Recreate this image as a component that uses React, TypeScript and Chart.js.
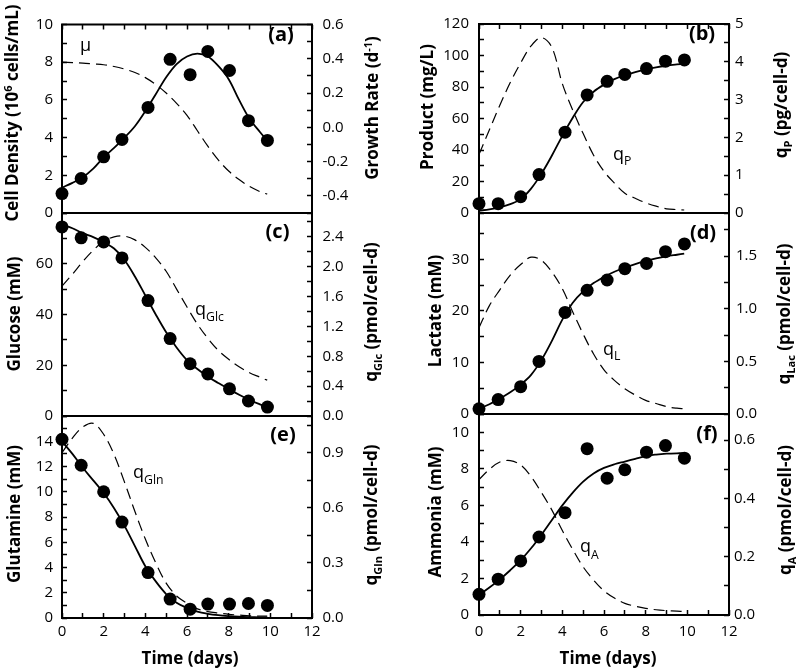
import React, { useEffect, useRef } from 'react';
import { Chart, registerables } from 'chart.js';

Chart.register(...registerables);

const FONT = "'Open Sans', 'DejaVu Sans', sans-serif";
Chart.defaults.font.family = FONT;
const W = 796;
const H = 669;

// ---- measured data (days) ----
const sampleDays = [0, 0.92, 2.0, 2.88, 4.13, 5.19, 6.15, 7.0, 8.04, 8.95, 9.86];
const cellDensity = [1.03, 1.83, 2.98, 3.9, 5.6, 8.15, 7.34, 8.57, 7.56, 4.9, 3.85];
const product = [5.9, 5.9, 10.3, 24.4, 51.3, 75.0, 83.6, 88.0, 91.7, 96.4, 97.2];
const glucose = [74.5, 70.2, 68.6, 62.3, 45.5, 30.5, 20.6, 16.6, 10.7, 5.9, 3.5];
const lactate = [1.0, 2.8, 5.3, 10.2, 19.7, 24.0, 26.0, 28.2, 29.2, 31.5, 33.0];
const glutamine = [14.15, 12.1, 10.0, 7.6, 3.6, 1.5, 0.7, 1.1, 1.1, 1.15, 1.0];
const ammonia = [1.13, 1.96, 2.96, 4.27, 5.6, 9.1, 7.49, 7.95, 8.91, 9.27, 8.58];

// ---- model curves ----
const fitDays = [0, 0.5, 1, 1.5, 2, 2.5, 3, 3.5, 4, 4.5, 5, 5.5, 6, 6.5, 7, 7.5, 8, 8.5, 9, 9.5, 9.85];
const cellFit = [1.35, 1.6, 1.9, 2.35, 2.95, 3.45, 4.0, 4.6, 5.4, 6.3, 7.2, 7.9, 8.3, 8.45, 8.3, 7.8, 7.1, 6.0, 5.0, 4.3, 3.85];
const muFit = [0.38, 0.378, 0.375, 0.37, 0.365, 0.355, 0.34, 0.32, 0.29, 0.25, 0.2, 0.14, 0.07, -0.02, -0.11, -0.19, -0.255, -0.305, -0.345, -0.375, -0.39];
const productFit = [1.5, 2.3, 3.6, 5.6, 8.8, 15.5, 25, 36.5, 49, 60.5, 70.5, 77, 81.5, 85, 87.5, 89.5, 91.2, 92.5, 93.5, 94.3, 94.8];
const qpFit = [1.55, 2.2, 2.85, 3.45, 3.97, 4.42, 4.64, 4.38, 3.42, 2.72, 2.1, 1.53, 1.1, 0.79, 0.52, 0.39, 0.27, 0.18, 0.11, 0.09, 0.08];
const glucoseFit = [75.5, 74, 72, 70.5, 68.5, 66, 61.5, 55, 47.5, 40, 33, 27, 22, 18.5, 15.5, 13, 10.6, 8.4, 6.3, 4.6, 3.5];
const qGlcFit = [1.74, 1.9, 2.07, 2.22, 2.34, 2.4, 2.41, 2.36, 2.26, 2.12, 1.94, 1.7, 1.46, 1.23, 1.04, 0.88, 0.76, 0.66, 0.58, 0.52, 0.48];
const lactateFit = [1.0, 1.9, 3.0, 4.2, 5.7, 7.6, 10.5, 14.2, 18.3, 21.6, 23.8, 25.4, 26.6, 27.6, 28.4, 29.1, 29.7, 30.2, 30.6, 30.9, 31.1];
const qLacFit = [0.82, 1.03, 1.18, 1.32, 1.42, 1.49, 1.46, 1.35, 1.19, 0.97, 0.76, 0.57, 0.42, 0.32, 0.24, 0.18, 0.13, 0.1, 0.07, 0.055, 0.05];
const glutamineFit = [14.0, 13.0, 11.9, 10.9, 9.9, 8.7, 7.3, 5.7, 4.1, 2.9, 1.9, 1.2, 0.8, 0.5, 0.33, 0.22, 0.15, 0.1, 0.07, 0.05, 0.04];
const qGlnFit = [0.9, 0.98, 1.04, 1.06, 1.0, 0.89, 0.74, 0.58, 0.43, 0.3, 0.19, 0.12, 0.08, 0.05, 0.035, 0.027, 0.02, 0.016, 0.012, 0.01, 0.01];
const ammoniaFit = [1.1, 1.5, 1.95, 2.45, 3.0, 3.65, 4.4, 5.2, 6.0, 6.7, 7.3, 7.75, 8.05, 8.25, 8.4, 8.55, 8.7, 8.78, 8.83, 8.85, 8.85];
const qAFit = [0.465, 0.5, 0.525, 0.53, 0.515, 0.475, 0.42, 0.36, 0.29, 0.225, 0.165, 0.12, 0.083, 0.058, 0.04, 0.03, 0.023, 0.018, 0.015, 0.013, 0.012];

// ---- tick labels ----
const dayLabels = [0, 2, 4, 6, 8, 10, 12];
const cellTicks = [0, 2, 4, 6, 8, 10];
const muTicks = [-0.4, -0.2, 0, 0.2, 0.4, 0.6];
const productTicks = [0, 20, 40, 60, 80, 100, 120];
const qpTicks = [0, 1, 2, 3, 4, 5];
const glucoseTicks = [0, 20, 40, 60];
const qGlcTicks = [0, 0.4, 0.8, 1.2, 1.6, 2.0, 2.4];
const lactateTicks = [0, 10, 20, 30];
const qLacTicks = [0, 0.5, 1.0, 1.5];
const glutamineTicks = [0, 2, 4, 6, 8, 10, 12, 14];
const qGlnTicks = [0, 0.3, 0.6, 0.9];
const ammoniaTicks = [0, 2, 4, 6, 8, 10];
const qATicks = [0, 0.2, 0.4, 0.6];

type Part = { t: string; s?: 'sub' | 'sup' };
type Side = { min: number; max: number; minor: number; labels: number[]; dec: number; pad: number };
type Panel = {
  tag: string; tagPos: [number, number];
  rect: [number, number, number, number];
  left: Side; right: Side;
  xMode: 'top' | 'none' | 'bottom'; xPad: number;
  measured: number[]; fit: number[]; rate: number[];
  leftTitle: Part[]; leftTitlePos: [number, number];
  rightTitle: Part[]; rightTitlePos: [number, number];
  rateLabel: Part[]; rateLabelPos: [number, number]; rateSubDy: number;
  timeTitlePos?: [number, number];
};

const panels: Panel[] = [
  {
    tag: '(a)', tagPos: [281, 34], rect: [62, 15, 312, 213],
    left: { min: 0, max: 10, minor: 1, labels: cellTicks, dec: 0, pad: 14 },
    right: { min: -0.5, max: 0.6, minor: 0.1, labels: muTicks, dec: 1, pad: 15.5 },
    xMode: 'top', xPad: 0,
    measured: cellDensity, fit: cellFit, rate: muFit,
    leftTitle: [{ t: 'Cell Density (10' }, { t: '6', s: 'sup' }, { t: ' cells/mL)' }], leftTitlePos: [12, 113],
    rightTitle: [{ t: 'Growth Rate (d' }, { t: '-1', s: 'sup' }, { t: ')' }], rightTitlePos: [372, 108],
    rateLabel: [{ t: 'μ' }], rateLabelPos: [80, 51], rateSubDy: 0,
  },
  {
    tag: '(b)', tagPos: [702, 33], rect: [479, 15, 729, 213],
    left: { min: 0, max: 120, minor: 10, labels: productTicks, dec: 0, pad: 15 },
    right: { min: 0, max: 5, minor: 0.5, labels: qpTicks, dec: 0, pad: 11 },
    xMode: 'top', xPad: 0,
    measured: product, fit: productFit, rate: qpFit,
    leftTitle: [{ t: 'Product (mg/L)' }], leftTitlePos: [427, 107],
    rightTitle: [{ t: 'q' }, { t: 'P', s: 'sub' }, { t: ' (pg/cell-d)' }], rightTitlePos: [781, 105],
    rateLabel: [{ t: 'q' }, { t: 'P', s: 'sub' }], rateLabelPos: [613, 159.5], rateSubDy: 5.5,
  },
  {
    tag: '(c)', tagPos: [277.5, 231], rect: [62, 213, 312, 416],
    left: { min: 0, max: 80, minor: 10, labels: glucoseTicks, dec: 0, pad: 14 },
    right: { min: 0, max: 2.72, minor: 0.2, labels: qGlcTicks, dec: 1, pad: 15.5 },
    xMode: 'none', xPad: 0,
    measured: glucose, fit: glucoseFit, rate: qGlcFit,
    leftTitle: [{ t: 'Glucose (mM)' }], leftTitlePos: [14, 314],
    rightTitle: [{ t: 'q' }, { t: 'Glc', s: 'sub' }, { t: ' (pmol/cell-d)' }], rightTitlePos: [371, 312],
    rateLabel: [{ t: 'q' }, { t: 'Glc', s: 'sub' }], rateLabelPos: [195, 314.5], rateSubDy: 6.5,
  },
  {
    tag: '(d)', tagPos: [703, 231.5], rect: [479, 213, 729, 414],
    left: { min: 0, max: 39, minor: 5, labels: lactateTicks, dec: 0, pad: 15 },
    right: { min: 0, max: 1.91, minor: 0.25, labels: qLacTicks, dec: 1, pad: 12 },
    xMode: 'none', xPad: 0,
    measured: lactate, fit: lactateFit, rate: qLacFit,
    leftTitle: [{ t: 'Lactate (mM)' }], leftTitlePos: [435, 311],
    rightTitle: [{ t: 'q' }, { t: 'Lac', s: 'sub' }, { t: ' (pmol/cell-d)' }], rightTitlePos: [784, 314],
    rateLabel: [{ t: 'q' }, { t: 'L', s: 'sub' }], rateLabelPos: [603, 355], rateSubDy: 5,
  },
  {
    tag: '(e)', tagPos: [283, 434], rect: [62, 416, 312, 618],
    left: { min: 0, max: 16, minor: 1, labels: glutamineTicks, dec: 0, pad: 14 },
    right: { min: 0, max: 1.1, minor: 0.15, labels: qGlnTicks, dec: 1, pad: 15.5 },
    xMode: 'bottom', xPad: 10,
    measured: glutamine, fit: glutamineFit, rate: qGlnFit,
    leftTitle: [{ t: 'Glutamine (mM)' }], leftTitlePos: [13.5, 514],
    rightTitle: [{ t: 'q' }, { t: 'Gln', s: 'sub' }, { t: ' (pmol/cell-d)' }], rightTitlePos: [371, 515],
    rateLabel: [{ t: 'q' }, { t: 'Gln', s: 'sub' }], rateLabelPos: [133, 477.5], rateSubDy: 6.5,
    timeTitlePos: [190, 658],
  },
  {
    tag: '(f)', tagPos: [707, 433], rect: [479, 414, 729, 615],
    left: { min: 0, max: 11, minor: 1, labels: ammoniaTicks, dec: 0, pad: 15 },
    right: { min: 0, max: 0.69, minor: 0.1, labels: qATicks, dec: 1, pad: 10 },
    xMode: 'bottom', xPad: 13,
    measured: ammonia, fit: ammoniaFit, rate: qAFit,
    leftTitle: [{ t: 'Ammonia (mM)' }], leftTitlePos: [435, 512],
    rightTitle: [{ t: 'q' }, { t: 'A', s: 'sub' }, { t: ' (pmol/cell-d)' }], rightTitlePos: [785, 510],
    rateLabel: [{ t: 'q' }, { t: 'A', s: 'sub' }], rateLabelPos: [580, 551.5], rateSubDy: 7,
    timeTitlePos: [608, 658],
  },
];

function makeTicks(min: number, max: number, step: number) {
  const out: number[] = [];
  const start = Math.ceil(min / step - 1e-9);
  for (let i = start; i * step <= max + 1e-9; i++) out.push(Math.round(i * step * 1e6) / 1e6);
  return out;
}

function drawRich(ctx: CanvasRenderingContext2D, parts: Part[], x: number, y: number,
  o: { size: number; bold?: boolean; rotate?: boolean; align?: 'left' | 'center'; baseline?: boolean; subScale?: number; subDy?: number }) {
  const w = o.bold ? 'bold ' : '';
  const subSize = o.size * (o.subScale ?? 0.65);
  const font = (p: Part) => `${w}${p.s ? subSize : o.size}px ${FONT}`;
  ctx.save();
  ctx.translate(x, y);
  if (o.rotate) ctx.rotate(-Math.PI / 2);
  let total = 0;
  for (const p of parts) { ctx.font = font(p); total += ctx.measureText(p.t).width; }
  let cx = o.align === 'left' ? 0 : -total / 2;
  const by = o.baseline ? 0 : o.size * 0.36;
  ctx.fillStyle = '#000';
  ctx.textAlign = 'left';
  ctx.textBaseline = 'alphabetic';
  for (const p of parts) {
    ctx.font = font(p);
    const dy = p.s === 'sub' ? (o.subDy ?? o.size * 0.3) : p.s === 'sup' ? -o.size * 0.38 : 0;
    ctx.fillText(p.t, cx, by + dy);
    cx += ctx.measureText(p.t).width;
  }
  ctx.restore();
}

function yAxis(side: Side, position: 'left' | 'right', boxWidth: number) {
  return {
    type: 'linear', position, min: side.min, max: side.max,
    afterFit: (s: any) => { s.width = boxWidth; },
    afterBuildTicks: (s: any) => { s.ticks = makeTicks(side.min, side.max, side.minor).map((v) => ({ value: v })); },
    grid: { display: true, drawOnChartArea: false, drawTicks: true, tickLength: -5, tickColor: '#000', tickWidth: 1.5 },
    border: { display: false },
    ticks: {
      autoSkip: false, padding: side.pad, color: '#000', font: { size: 15 },
      callback: (v: number) => (side.labels.some((l) => Math.abs(l - v) < 1e-6) ? Number(v).toFixed(side.dec) : ''),
    },
  };
}

function deco(p: Panel) {
  return {
    id: 'deco',
    beforeDatasetsDraw(chart: any) {
      const { ctx, chartArea: a } = chart;
      ctx.save();
      ctx.strokeStyle = '#000';
      ctx.lineWidth = 2;
      ctx.strokeRect(a.left, a.top, a.right - a.left, a.bottom - a.top);
      ctx.restore();
    },
    afterDraw(chart: any) {
      const ctx = chart.ctx as CanvasRenderingContext2D;
      drawRich(ctx, p.leftTitle, p.leftTitlePos[0], p.leftTitlePos[1], { size: 17, bold: true, rotate: true });
      drawRich(ctx, p.rightTitle, p.rightTitlePos[0], p.rightTitlePos[1], { size: 17, bold: true, rotate: true, subDy: 5 });
      drawRich(ctx, [{ t: p.tag }], p.tagPos[0], p.tagPos[1], { size: 20, bold: true });
      drawRich(ctx, p.rateLabel, p.rateLabelPos[0], p.rateLabelPos[1], { size: 18, align: 'left', baseline: true, subDy: p.rateSubDy, subScale: 0.68 });
      if (p.timeTitlePos) drawRich(ctx, [{ t: 'Time (days)' }], p.timeTitlePos[0], p.timeTitlePos[1], { size: 17, bold: true });
    },
  };
}

function buildConfig(p: Panel): any {
  const [L, T, R, B] = p.rect;
  const pts = (xs: number[], ys: number[]) => xs.map((x, i) => ({ x, y: ys[i] }));
  const edge = 2;
  const leftBox = L - edge;
  const rightBox = W - R - edge;
  const xBox = p.xMode === 'top' ? T - edge : p.xMode === 'bottom' ? H - B - edge : 0;
  const padding = {
    left: edge,
    right: edge,
    top: p.xMode === 'top' ? edge : T,
    bottom: p.xMode === 'bottom' ? edge : H - B,
  };
  return {
    type: 'scatter',
    data: {
      datasets: [
        { label: 'measured', data: pts(sampleDays, p.measured), yAxisID: 'y', showLine: false, pointRadius: 6.5, pointBackgroundColor: '#000', pointBorderColor: '#000', pointBorderWidth: 0, clip: false },
        { label: 'model', data: pts(fitDays, p.fit), yAxisID: 'y', showLine: true, pointRadius: 0, borderColor: '#000', borderWidth: 1.8, tension: 0.35, clip: false },
        { label: 'rate', data: pts(fitDays, p.rate), yAxisID: 'y2', showLine: true, pointRadius: 0, borderColor: '#000', borderWidth: 1.2, borderDash: [11, 6], tension: 0.35, clip: false },
      ],
    },
    options: {
      responsive: false, animation: false, devicePixelRatio: 1, events: [],
      layout: { padding },
      plugins: { legend: { display: false }, tooltip: { enabled: false } },
      scales: {
        x: {
          type: 'linear', min: 0, max: 12,
          display: p.xMode !== 'none',
          position: p.xMode === 'top' ? 'top' : 'bottom',
          afterFit: (s: any) => { s.height = xBox; },
          afterBuildTicks: (s: any) => { s.ticks = makeTicks(0, 12, 1).map((v) => ({ value: v })); },
          grid: { display: true, drawOnChartArea: false, drawTicks: true, tickLength: -5, tickColor: '#000', tickWidth: 1.5 },
          border: { display: false },
          ticks: {
            autoSkip: false, maxRotation: 0, minRotation: 0, padding: p.xPad, color: '#000', font: { size: 15 },
            callback: (v: number) => (p.xMode === 'bottom' && dayLabels.includes(v) ? String(v) : ''),
          },
        },
        y: yAxis(p.left, 'left', leftBox),
        y2: yAxis(p.right, 'right', rightBox),
      },
    },
    plugins: [deco(p)],
  };
}

function PanelChart({ panel }: { panel: Panel }) {
  const ref = useRef<HTMLCanvasElement>(null);
  useEffect(() => {
    const chart = new Chart(ref.current as HTMLCanvasElement, buildConfig(panel));
    return () => chart.destroy();
  }, [panel]);
  return (
    <canvas ref={ref} width={W} height={H}
      style={{ position: 'absolute', left: 0, top: 0, width: W, height: H }} />
  );
}

export default function App() {
  return (
    <div style={{ position: 'absolute', left: 0, top: 0, width: W, height: H, background: '#fff', overflow: 'hidden' }}>
      {panels.map((p) => <PanelChart key={p.tag} panel={p} />)}
    </div>
  );
}
